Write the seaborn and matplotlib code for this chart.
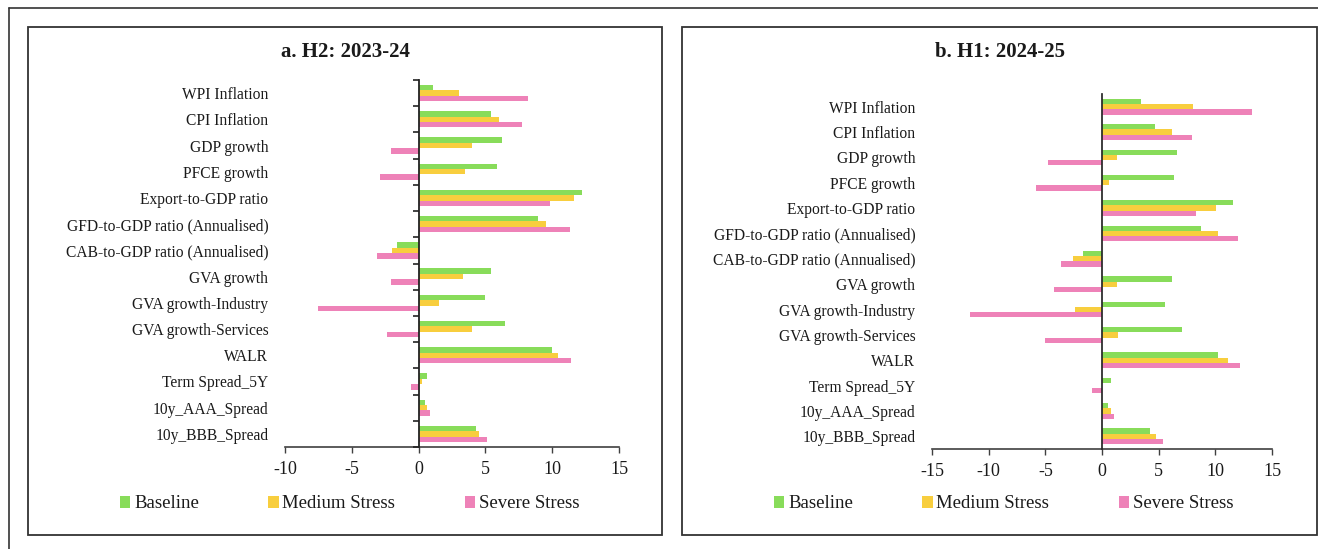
import matplotlib
matplotlib.use("Agg")
import matplotlib.pyplot as plt
import seaborn as sns
import pandas as pd
from matplotlib.patches import Rectangle
from matplotlib.lines import Line2D

# Kategorien (von oben nach unten)
categories = [
    "WPI Inflation", "CPI Inflation", "GDP growth", "PFCE growth",
    "Export-to-GDP ratio", "GFD-to-GDP ratio (Annualised)",
    "CAB-to-GDP ratio (Annualised)", "GVA growth", "GVA growth-Industry",
    "GVA growth-Services", "WALR", "Term Spread_5Y", "10y_AAA_Spread",
    "10y_BBB_Spread",
]
scenarios = ["Baseline", "Medium Stress", "Severe Stress"]

# a. H2: 2023-24
h2_baseline = [1.05, 5.4, 6.25, 5.9, 12.25, 8.9, -1.65, 5.45, 5.0, 6.45, 10.0, 0.63, 0.5, 4.3]
h2_medium = [3.0, 6.05, 4.0, 3.5, 11.6, 9.55, -2.0, 3.35, 1.55, 4.0, 10.4, 0.28, 0.6, 4.55]
h2_severe = [8.2, 7.75, -2.05, -2.9, 9.85, 11.3, -3.1, -2.1, -7.55, -2.4, 11.4, -0.55, 0.88, 5.15]

# b. H1: 2024-25
h1_baseline = [3.45, 4.65, 6.6, 6.35, 11.6, 8.7, -1.65, 6.2, 5.6, 7.1, 10.2, 0.75, 0.55, 4.25]
h1_medium = [8.05, 6.15, 1.3, 0.65, 10.05, 10.2, -2.55, 1.3, -2.4, 1.4, 11.1, 0.0, 0.8, 4.8]
h1_severe = [13.25, 7.9, -4.75, -5.8, 8.3, 12.0, -3.6, -4.25, -11.65, -5.05, 12.2, -0.85, 1.05, 5.4]

colors = ["#88DC5A", "#F8CE3E", "#EE82B8"]

W, H = 1318, 549


def long_df(base, med, sev):
    rows = []
    for vals, name in zip([base, med, sev], scenarios):
        for cat, v in zip(categories, vals):
            rows.append({"Category": cat, "Scenario": name, "Value": v})
    return pd.DataFrame(rows)


sns.set_theme(style="white")
plt.rcParams["font.family"] = ["Liberation Serif", "DejaVu Serif"]
plt.rcParams["text.color"] = "#1a1a1a"
plt.rcParams["xtick.color"] = "#1a1a1a"
plt.rcParams["ytick.color"] = "#1a1a1a"

fig = plt.figure(figsize=(W / 100, H / 100), dpi=100)

panels = [
    # (Daten, Titel, Achse px [links, oben, rechts, unten], xlim, xticks, Ticks bei 0, Rahmen px, Legende x, Titel x)
    ((h2_baseline, h2_medium, h2_severe), "a. H2: 2023-24", (285, 80, 619, 447),
     (-10, 15), [-10, -5, 0, 5, 10, 15], True, (28, 27, 662, 535), 120, 345),
    ((h1_baseline, h1_medium, h1_severe), "b. H1: 2024-25", (932, 94, 1272, 449),
     (-15, 15), [-15, -10, -5, 0, 5, 10, 15], False, (682, 27, 1317, 535), 774, 1000),
]

for data, title, (l, t, r, b), xlim, xticks, zero_ticks, box, leg_x, title_x in panels:
    ax = fig.add_axes([l / W, 1 - b / H, (r - l) / W, (b - t) / H])
    df = long_df(*data)
    sns.barplot(data=df, y="Category", x="Value", hue="Scenario", order=categories,
                hue_order=scenarios, palette=colors, orient="h", width=0.62, gap=0,
                errorbar=None, saturation=1, linewidth=0, ax=ax)
    handles, labels = ax.get_legend_handles_labels()
    ax.get_legend().remove()

    ax.set_xlim(*xlim)
    ax.set_ylim(len(categories) - 0.5, -0.5)
    ax.set_xticks(xticks)
    ax.set_xticklabels([str(v) for v in xticks], fontsize=13)
    ax.set_xlabel("")
    ax.set_ylabel("")
    ax.tick_params(axis="y", length=0, pad=12, labelsize=11.2)
    ax.tick_params(axis="x", direction="out", length=4, width=1, color="#404040", pad=6, bottom=True)

    for side in ["top", "right", "left"]:
        ax.spines[side].set_visible(False)
    ax.spines["bottom"].set_color("#404040")
    ax.spines["bottom"].set_linewidth(1.2)

    # Achse bei 0
    zero_pos = (0 - xlim[0]) / (xlim[1] - xlim[0])
    sec = ax.secondary_yaxis(zero_pos)
    sec.set_zorder(5)
    sec.spines["left"].set_color("#222222")
    sec.spines["left"].set_linewidth(1.3)
    if zero_ticks:
        sec.set_yticks([i - 0.5 for i in range(len(categories) + 1)])
        sec.tick_params(axis="y", length=4, width=1.2, color="#222222", labelleft=False)
    else:
        sec.set_yticks([])

    fig.text(title_x / W, 1 - 52 / H, title, ha="center", va="center",
             fontsize=15, fontweight="bold")

    fig.legend(handles, labels, loc="center left", bbox_to_anchor=(leg_x / W, 1 - 504 / H),
               ncol=3, frameon=False, fontsize=13.5, handlelength=0.55, handleheight=0.55,
               handletextpad=0.2, columnspacing=3.7, borderpad=0, borderaxespad=0)

    bx0, by0, bx1, by1 = box
    fig.add_artist(Rectangle((bx0 / W, 1 - by1 / H), (bx1 - bx0) / W, (by1 - by0) / H,
                             transform=fig.transFigure, fill=False, lw=1.3, ec="#333333"))

# äußere Rahmenlinien
fig.add_artist(Line2D([9 / W, 1], [1 - 8 / H, 1 - 8 / H], transform=fig.transFigure,
                      color="#333333", lw=1.2))
fig.add_artist(Line2D([9 / W, 9 / W], [0, 1 - 8 / H], transform=fig.transFigure,
                      color="#333333", lw=1.2))

fig.savefig("out.png", dpi=100, facecolor="white")
